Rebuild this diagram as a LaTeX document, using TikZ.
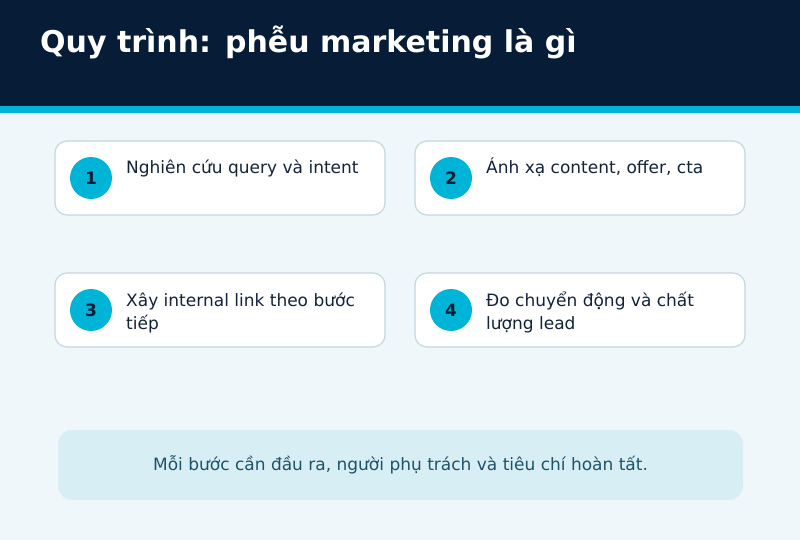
\documentclass[tikz,border=0pt]{standalone}
\usepackage{fontspec}
\setmainfont{DejaVu Sans}
\definecolor{navy}{HTML}{061C37}
\definecolor{cyanb}{HTML}{00B4D8}
\definecolor{pagebg}{HTML}{EFF7FA}
\definecolor{cardline}{HTML}{C3D7DF}
\definecolor{txt}{HTML}{13233A}
\definecolor{notebg}{HTML}{D8EEF5}
\definecolor{notetxt}{HTML}{1D5369}
\begin{document}
\begin{tikzpicture}[x=1pt,y=-1pt,
  card/.style={draw=cardline,line width=1.2pt,fill=white,rounded corners=12pt},
  numc/.style={circle,fill=cyanb,minimum size=42pt,inner sep=0pt,text=navy,font=\bfseries\fontsize{17}{17}\selectfont},
  cardtext/.style={anchor=base west,align=left,inner sep=0pt,text=txt,font=\fontsize{17}{23}\selectfont}]
\useasboundingbox (0,0) rectangle (800,540);
\fill[pagebg] (0,0) rectangle (800,540);
\fill[navy] (0,0) rectangle (800,106);
\fill[cyanb] (0,106) rectangle (800,113);
\node[anchor=base west,inner sep=0pt,text=white,font=\bfseries\fontsize{30}{30}\selectfont] (title) at (40,53) {Quy trình: phễu marketing là gì};
% cards
\draw[card] (55,141) rectangle (385,215);
\draw[card] (415,141) rectangle (745,215);
\draw[card] (55,273) rectangle (385,347);
\draw[card] (415,273) rectangle (745,347);
\node[numc] (n1) at (91,178) {1};
\node[numc] (n2) at (451,178) {2};
\node[numc] (n3) at (91,310) {3};
\node[numc] (n4) at (451,310) {4};
\node[cardtext] (t1) at (126,174) {Nghiên cứu query và intent};
\node[cardtext] (t2) at (486,174) {Ánh xạ content, offer, cta};
\node[cardtext] (t3) at (126,329) {Xây internal link theo bước\\tiếp};
\node[cardtext] (t4) at (486,329) {Đo chuyển động và chất\\lượng lead};
% note
\fill[notebg,rounded corners=14pt] (58,430) rectangle (743,500);
\node[text=notetxt,inner sep=0pt,font=\fontsize{17}{17}\selectfont] (note) at (400.5,465) {Mỗi bước cần đầu ra, người phụ trách và tiêu chí hoàn tất.};
\end{tikzpicture}
\end{document}
